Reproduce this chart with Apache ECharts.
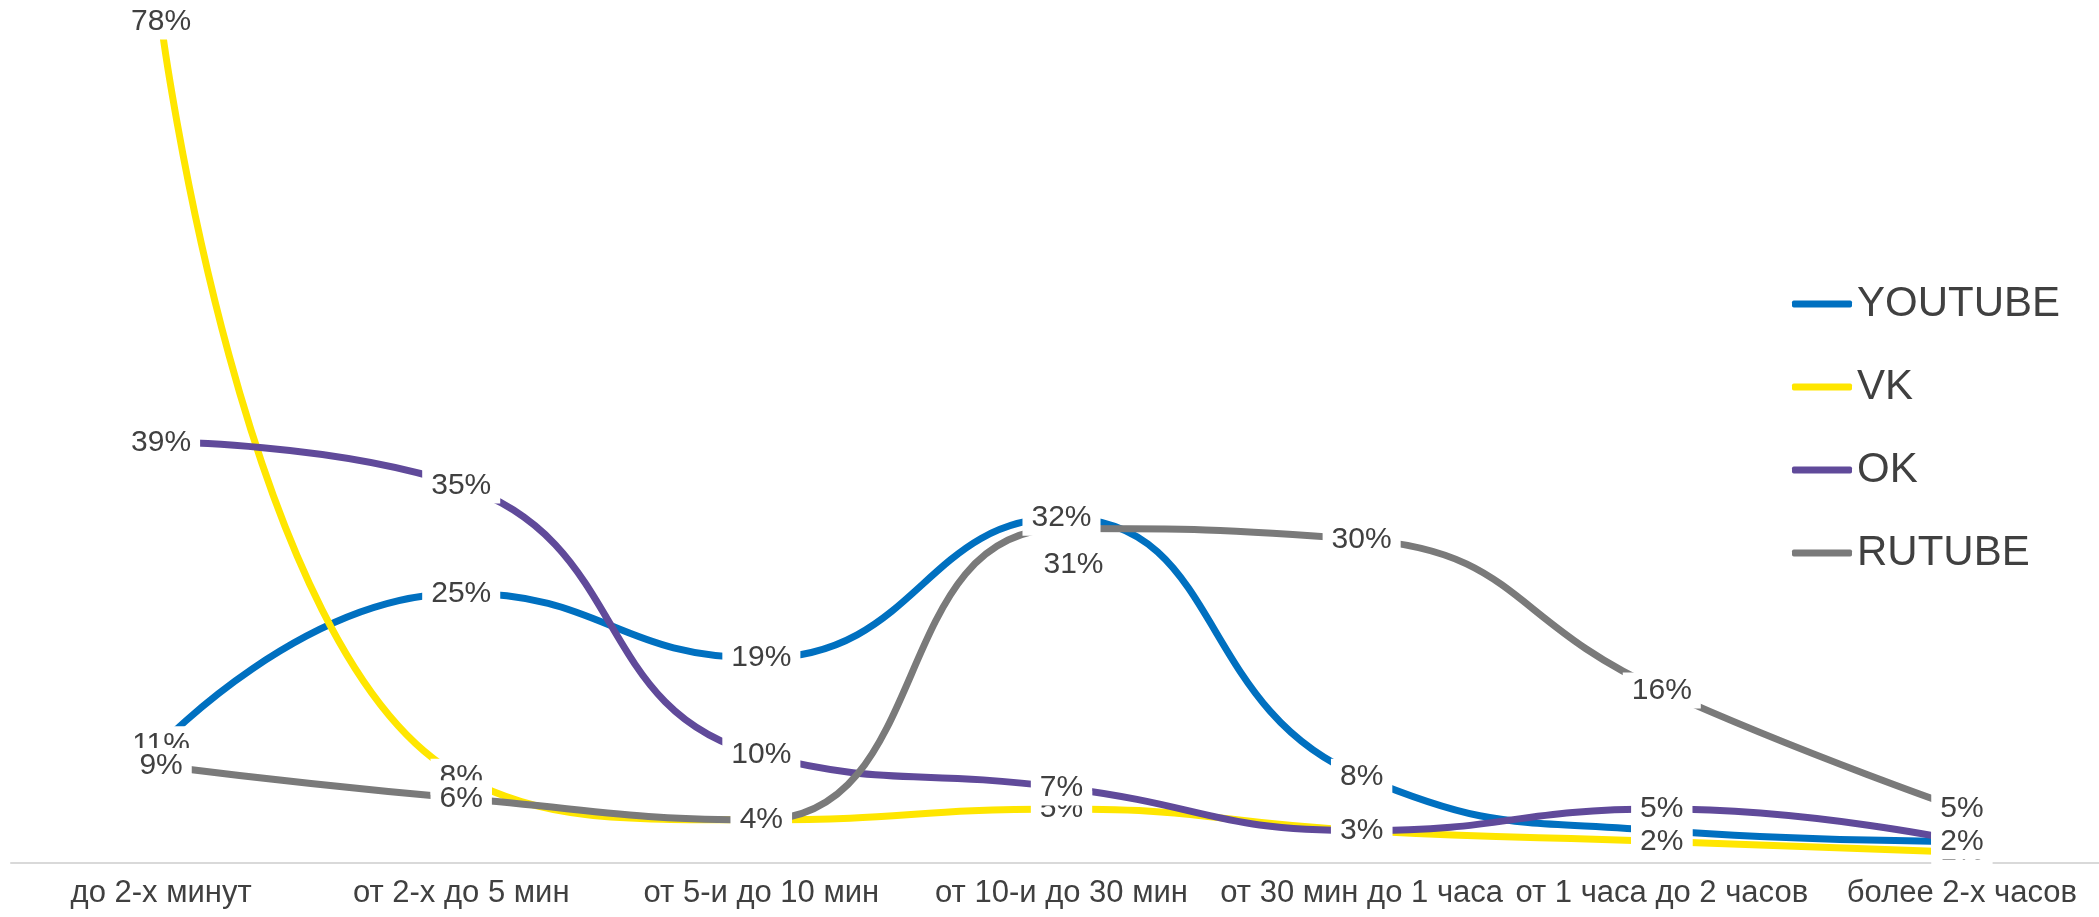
<!DOCTYPE html>
<html>
<head>
<meta charset="utf-8">
<script src="https://cdn.jsdelivr.net/npm/echarts@6/dist/echarts.min.js"></script>
<style>
  html, body { margin: 0; padding: 0; background: #fff; overflow: hidden; }
  #chart { width: 2112px; height: 917px; }
</style>
</head>
<body>
<div id="chart"></div>
<script>
  // категории длительности просмотра
  const categories = ['до 2-х минут', 'от 2-х до 5 мин', 'от 5-и до 10 мин', 'от 10-и до 30 мин',
    'от 30 мин до 1 часа', 'от 1 часа до 2 часов', 'более 2-х часов']

  // доли, %
  const youtube = [11, 25, 19, 32, 8, 3, 2]
  const vk = [78, 8, 4, 5, 3, 2, 1]
  const ok = [39, 35, 10, 7, 3, 5, 2]
  const rutube = [9, 6, 4, 31, 30, 16, 5]

  const font = '"Liberation Sans", Arial, sans-serif'
  const textColor = '#404040'

  function makeSeries(name, values, color) {
    return {
      name: name,
      type: 'line',
      data: values,
      smooth: 0.5,
      symbol: 'circle',
      symbolSize: 1,
      itemStyle: { color: color },
      lineStyle: { color: color, width: 7 },
      label: {
        show: true,
        position: 'inside',
        formatter: '{c}%',
        color: textColor,
        fontFamily: font,
        fontSize: 30,
        backgroundColor: '#fff',
        padding: [3, 9]
      }
    }
  }

  let rutubeSeries = makeSeries('RUTUBE', rutube, '#7a7a7a')
  // подпись 31% в оригинале сдвинута вниз
  rutubeSeries.data = rutube.map((v, i) => i === 3 ? { value: v, label: { offset: [12, 36] } } : v)

  let myChart = echarts.init(document.getElementById('chart'))
  let option = {
    animation: false,
    grid: {
      left: 11,
      right: 0,
      top: 0,
      bottom: 54
    },
    legend: {
      orient: 'vertical',
      left: 1787,
      top: 277,
      icon: 'roundRect',
      itemWidth: 60,
      itemHeight: 7,
      itemGap: 39,
      textStyle: {
        color: textColor,
        fontFamily: font,
        fontSize: 42,
        lineHeight: 44
      },
      data: ['YOUTUBE', 'VK', 'OK', 'RUTUBE']
    },
    xAxis: {
      type: 'category',
      data: categories,
      boundaryGap: true,
      axisTick: { show: false },
      axisLine: { lineStyle: { color: '#d9d9d9', width: 2 } },
      axisLabel: {
        color: textColor,
        fontFamily: font,
        fontSize: 31,
        margin: 15,
        interval: 0
      }
    },
    yAxis: {
      type: 'value',
      min: 0,
      max: 80,
      show: false,
      splitLine: { show: false }
    },
    series: [
      makeSeries('YOUTUBE', youtube, '#0070c0'),
      makeSeries('VK', vk, '#ffe600'),
      makeSeries('OK', ok, '#604a9a'),
      rutubeSeries
    ]
  }

  myChart.setOption(option)
</script>
</body>
</html>
